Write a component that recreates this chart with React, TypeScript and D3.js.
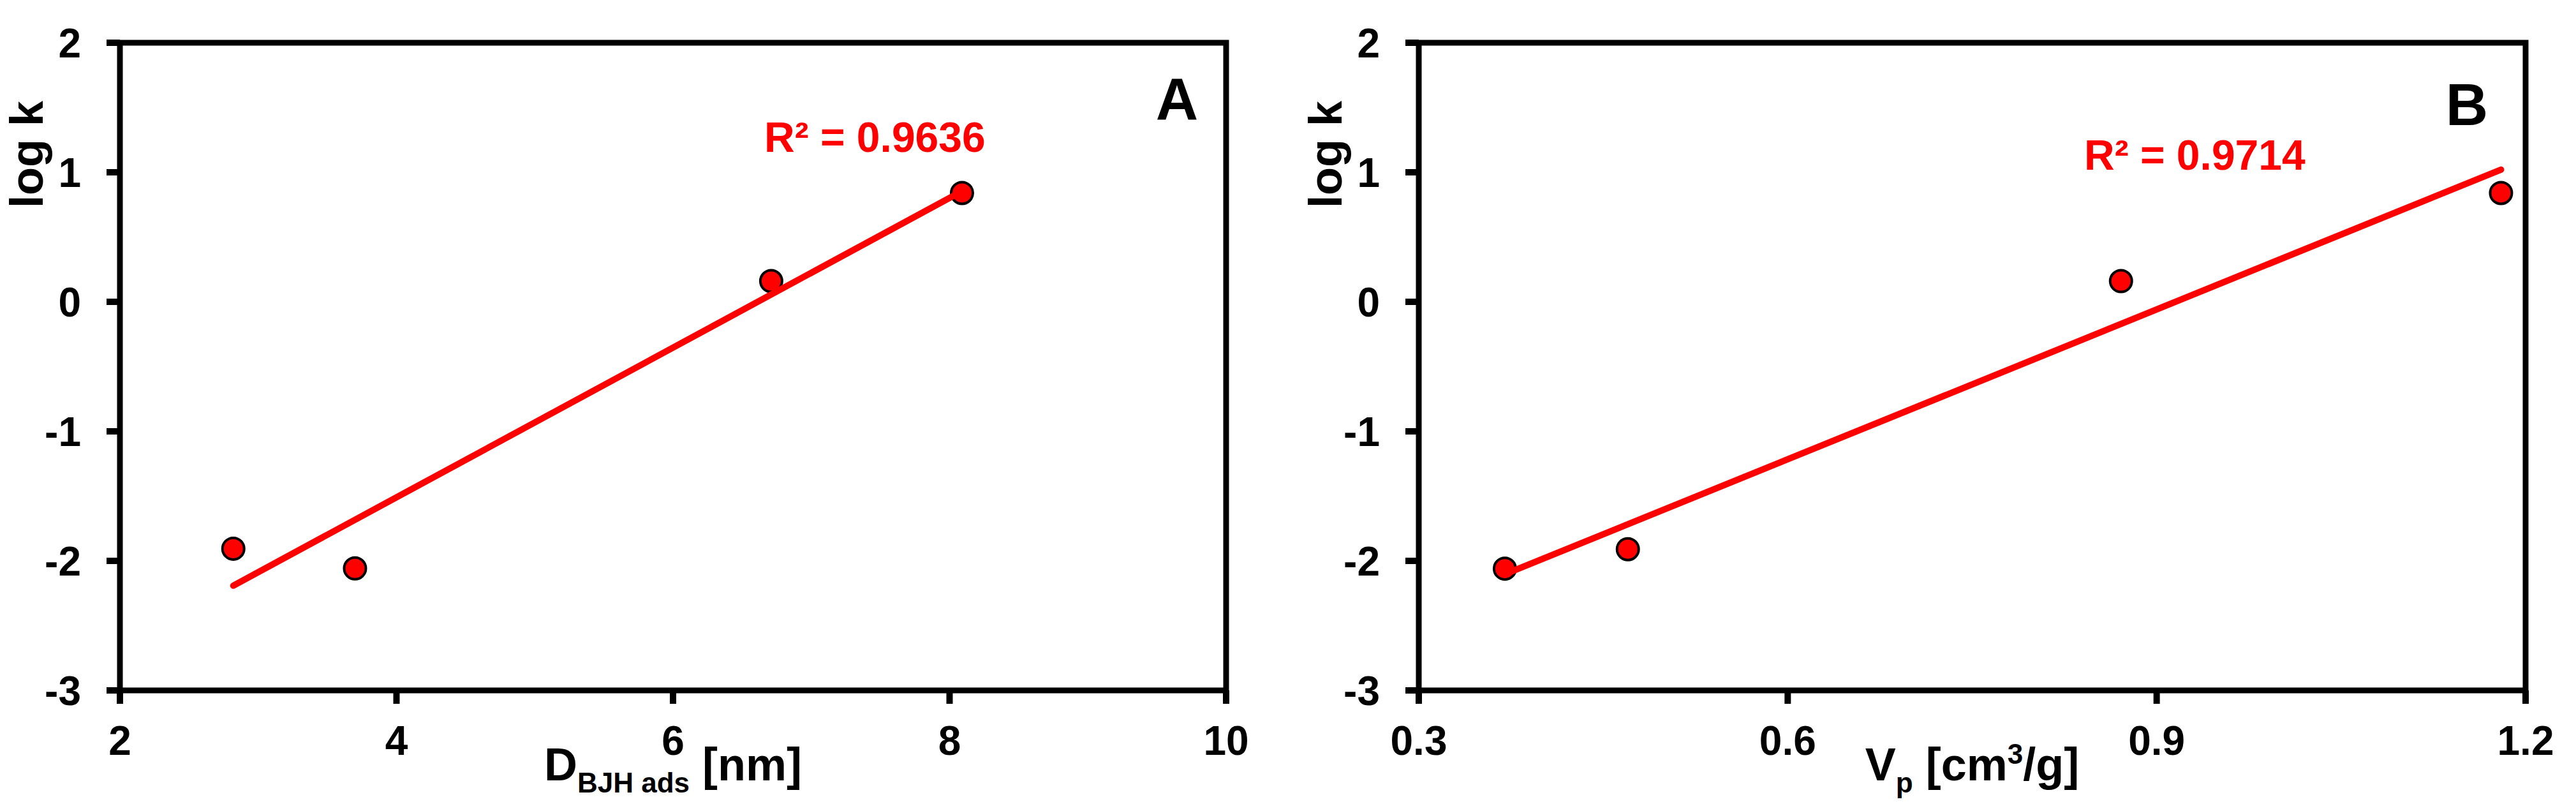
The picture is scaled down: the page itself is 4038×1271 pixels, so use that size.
import React from "react";
import * as d3 from "d3";

// ---- data ----
const dbjhA = [2.82, 3.7, 6.71, 8.09];
const logkA = [-1.906, -2.058, 0.16, 0.84];
const vpB = [0.37, 0.47, 0.871, 1.18];
const logkB = [-2.06, -1.91, 0.16, 0.84];

const xTicksA = [2, 4, 6, 8, 10];
const xTicksB = [0.3, 0.6, 0.9, 1.2];
const yTicks = [-3, -2, -1, 0, 1, 2];
const r2Labels = ["R\u00B2 = 0.9636", "R\u00B2 = 0.9714"];
const panelLetters = ["A", "B"];

const W = 4038;
const H = 1271;
const TOP = 67;
const BOTTOM = 1082;
const FONT = "'Liberation Sans', Arial, sans-serif";

function linFit(xs: number[], ys: number[]) {
  const mx = d3.mean(xs) as number;
  const my = d3.mean(ys) as number;
  let sxy = 0, sxx = 0;
  xs.forEach((x, i) => {
    sxy += (x - mx) * (ys[i] - my);
    sxx += (x - mx) * (x - mx);
  });
  const m = sxy / sxx;
  return (x: number) => my + m * (x - mx);
}

type PanelProps = {
  left: number;
  right: number;
  xDomain: [number, number];
  xTicks: number[];
  xFmt: (v: number) => string;
  xs: number[];
  ys: number[];
  r2: string;
  r2x: number;
  r2y: number;
  letter: string;
  letterX: number;
  letterY: number;
  xTitle: React.ReactNode;
};

function Panel(p: PanelProps) {
  const x = d3.scaleLinear().domain(p.xDomain).range([p.left, p.right]);
  const y = d3.scaleLinear().domain([-3, 2]).range([BOTTOM, TOP]);
  const fit = linFit(p.xs, p.ys);
  const x0 = d3.min(p.xs) as number;
  const x1 = d3.max(p.xs) as number;
  const line = d3.line<number>().x((d) => x(d)).y((d) => y(fit(d)));
  const sw = 9;
  return (
    <g>
      {/* frame */}
      <rect
        x={p.left}
        y={TOP}
        width={p.right - p.left}
        height={BOTTOM - TOP}
        fill="none"
        stroke="#000"
        strokeWidth={sw}
      />
      {/* y ticks */}
      {yTicks.map((t) => (
        <g key={"y" + t}>
          <line x1={p.left - 21} x2={p.left} y1={y(t)} y2={y(t)} stroke="#000" strokeWidth={10} />
          <text
            x={p.left - 61}
            y={y(t)}
            dy="0.36em"
            textAnchor="end"
            fontFamily={FONT}
            fontWeight="bold"
            fontSize={64}
          >
            {t}
          </text>
        </g>
      ))}
      {/* x ticks */}
      {p.xTicks.map((t) => (
        <g key={"x" + t}>
          <line x1={x(t)} x2={x(t)} y1={BOTTOM} y2={BOTTOM + 21} stroke="#000" strokeWidth={10} />
          <text
            x={x(t)}
            y={1183}
            textAnchor="middle"
            fontFamily={FONT}
            fontWeight="bold"
            fontSize={64}
          >
            {p.xFmt(t)}
          </text>
        </g>
      ))}
      {/* y title */}
      <text
        transform={`translate(${p.left - 121},242) rotate(-90)`}
        textAnchor="middle"
        fontFamily={FONT}
        fontWeight="bold"
        fontSize={72}
      >
        log k
      </text>
      {/* x title */}
      <text
        x={(p.left + p.right) / 2}
        y={1223}
        textAnchor="middle"
        fontFamily={FONT}
        fontWeight="bold"
        fontSize={72}
      >
        {p.xTitle}
      </text>
      {/* points */}
      {p.xs.map((v, i) => (
        <circle key={i} cx={x(v)} cy={y(p.ys[i])} r={17} fill="#FF0000" stroke="#000" strokeWidth={4} />
      ))}
      {/* trend line */}
      <path
        d={line([x0, x1]) as string}
        fill="none"
        stroke="#FF0000"
        strokeWidth={10}
        strokeLinecap="round"
      />
      <text x={p.r2x} y={p.r2y} fill="#FF0000" fontFamily={FONT} fontWeight="bold" fontSize={66}>
        {p.r2}
      </text>
      <text
        x={p.letterX}
        y={p.letterY}
        textAnchor="middle"
        fontFamily={FONT}
        fontWeight="bold"
        fontSize={92}
      >
        {p.letter}
      </text>
    </g>
  );
}

export default function App() {
  return (
    <svg
      width={W}
      height={H}
      style={{ position: "absolute", left: 0, top: 0, background: "#fff" }}
    >
      <rect x={0} y={0} width={W} height={H} fill="#fff" />
      <Panel
        left={188}
        right={1922}
        xDomain={[2, 10]}
        xTicks={xTicksA}
        xFmt={(v) => String(v)}
        xs={dbjhA}
        ys={logkA}
        r2={r2Labels[0]}
        r2x={1198}
        r2y={238}
        letter={panelLetters[0]}
        letterX={1845}
        letterY={187}
        xTitle={
          <>
            <tspan>D</tspan>
            <tspan fontSize={44} dy={19}>BJH ads</tspan>
            <tspan dy={-19}> [nm]</tspan>
          </>
        }
      />
      <Panel
        left={2224}
        right={3959}
        xDomain={[0.3, 1.2]}
        xTicks={xTicksB}
        xFmt={(v) => v.toFixed(1)}
        xs={vpB}
        ys={logkB}
        r2={r2Labels[1]}
        r2x={3267}
        r2y={266}
        letter={panelLetters[1]}
        letterX={3867}
        letterY={196}
        xTitle={
          <>
            <tspan>V</tspan>
            <tspan fontSize={44} dy={19}>p</tspan>
            <tspan dy={-19}> [cm</tspan>
            <tspan fontSize={44} dy={-26}>3</tspan>
            <tspan dy={26}>/g]</tspan>
          </>
        }
      />
    </svg>
  );
}
